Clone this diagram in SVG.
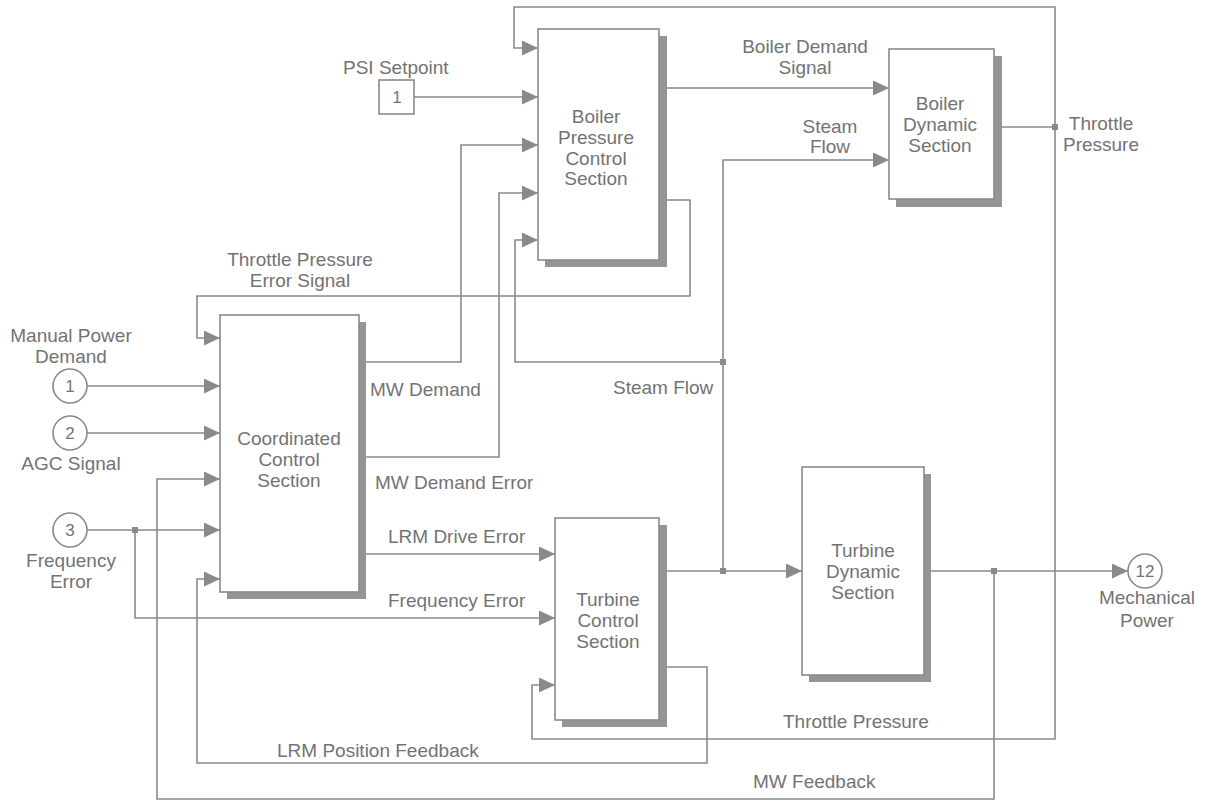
<svg xmlns="http://www.w3.org/2000/svg" width="1206" height="802" viewBox="0 0 1206 802">
<style>
  .blk{fill:#fff;stroke:#8a8a8a;stroke-width:1.6}
  .shd{fill:#959595}
  .ln{fill:none;stroke:#8a8a8a;stroke-width:1.6}
  .t{font-family:"Liberation Sans",Arial,sans-serif;font-size:19px;fill:#737373}
  .m{text-anchor:middle}
  .port{fill:#fff;stroke:#8a8a8a;stroke-width:1.6}
  .num{font-family:"Liberation Sans",Arial,sans-serif;font-size:17px;fill:#737373;text-anchor:middle}
  .dot{fill:#8a8a8a}
</style>
<defs>
  <marker id="arr" viewBox="0 0 16 15" refX="16" refY="7.5" markerWidth="16" markerHeight="15" markerUnits="userSpaceOnUse" orient="auto">
    <path d="M0,0 L16,7.5 L0,15 z" fill="#8a8a8a"/>
  </marker>
</defs>

<g id="connectors">
  <path class="ln" d="M414,97 H538" marker-end="url(#arr)"/>
  <path class="ln" d="M1055,127 V7 H514 V48 H538" marker-end="url(#arr)"/>
  <path class="ln" d="M994,127 H1055"/>
  <path class="ln" d="M1055,127 V739 H532 V685 H555" marker-end="url(#arr)"/>
  <path class="ln" d="M659,88 H889" marker-end="url(#arr)"/>
  <path class="ln" d="M359,362 H461 V145 H538" marker-end="url(#arr)"/>
  <path class="ln" d="M359,457 H499 V193 H538" marker-end="url(#arr)"/>
  <path class="ln" d="M723,362 H515 V240 H538" marker-end="url(#arr)"/>
  <path class="ln" d="M723,571 V160 H889" marker-end="url(#arr)"/>
  <path class="ln" d="M659,200 H690 V296 H197 V338 H220" marker-end="url(#arr)"/>
  <path class="ln" d="M87,386 H220" marker-end="url(#arr)"/>
  <path class="ln" d="M87,433 H220" marker-end="url(#arr)"/>
  <path class="ln" d="M87,530 H220" marker-end="url(#arr)"/>
  <path class="ln" d="M135,530 V618 H555" marker-end="url(#arr)"/>
  <path class="ln" d="M994,571 V799 H157 V479 H220" marker-end="url(#arr)"/>
  <path class="ln" d="M659,667 H707 V763 H197 V579 H220" marker-end="url(#arr)"/>
  <path class="ln" d="M359,554 H555" marker-end="url(#arr)"/>
  <path class="ln" d="M659,571 H802" marker-end="url(#arr)"/>
  <path class="ln" d="M924,571 H1128" marker-end="url(#arr)"/>
  <rect class="dot" x="1052" y="124" width="6" height="6"/>
  <rect class="dot" x="720" y="359" width="6" height="6"/>
  <rect class="dot" x="720" y="568" width="6" height="6"/>
  <rect class="dot" x="991" y="568" width="6" height="6"/>
  <rect class="dot" x="132" y="527" width="6" height="6"/>
</g>

<g id="psi-setpoint">
  <rect class="port" x="379" y="80" width="35" height="34"/>
  <text class="num" x="397" y="103">1</text>
  <text class="t" x="343" y="74">PSI Setpoint</text>
</g>

<g id="in1">
  <circle class="port" cx="70" cy="386" r="17"/>
  <text class="num" x="70" y="392">1</text>
  <text class="t m" x="71" y="342">Manual Power</text>
  <text class="t m" x="71" y="363">Demand</text>
</g>
<g id="in2">
  <circle class="port" cx="70" cy="433" r="17"/>
  <text class="num" x="70" y="439">2</text>
  <text class="t m" x="71" y="470">AGC Signal</text>
</g>
<g id="in3">
  <circle class="port" cx="70" cy="530" r="17"/>
  <text class="num" x="70" y="536">3</text>
  <text class="t m" x="71" y="567">Frequency</text>
  <text class="t m" x="71" y="588">Error</text>
</g>
<g id="out12">
  <circle class="port" cx="1145" cy="571" r="17"/>
  <text class="num" x="1145" y="577">12</text>
  <text class="t m" x="1147" y="604">Mechanical</text>
  <text class="t m" x="1147" y="627">Power</text>
</g>

<g id="bpcs">
  <rect class="shd" x="545" y="36" width="122" height="231"/>
  <rect class="blk" x="538" y="29" width="121" height="231"/>
  <text class="t m" x="596" y="123">Boiler</text>
  <text class="t m" x="596" y="144">Pressure</text>
  <text class="t m" x="596" y="165">Control</text>
  <text class="t m" x="596" y="185">Section</text>
</g>

<g id="bds">
  <rect class="shd" x="896" y="56" width="106" height="151"/>
  <rect class="blk" x="889" y="49" width="105" height="150"/>
  <text class="t m" x="940" y="110">Boiler</text>
  <text class="t m" x="940" y="131">Dynamic</text>
  <text class="t m" x="940" y="152">Section</text>
</g>

<g id="ccs">
  <rect class="shd" x="227" y="322" width="139" height="277"/>
  <rect class="blk" x="220" y="315" width="139" height="277"/>
  <text class="t m" x="289" y="445">Coordinated</text>
  <text class="t m" x="289" y="466">Control</text>
  <text class="t m" x="289" y="487">Section</text>
</g>

<g id="tcs">
  <rect class="shd" x="562" y="525" width="105" height="202"/>
  <rect class="blk" x="555" y="518" width="104" height="202"/>
  <text class="t m" x="608" y="606">Turbine</text>
  <text class="t m" x="608" y="627">Control</text>
  <text class="t m" x="608" y="648">Section</text>
</g>

<g id="tds">
  <rect class="shd" x="809" y="474" width="122" height="208"/>
  <rect class="blk" x="802" y="467" width="122" height="208"/>
  <text class="t m" x="863" y="557">Turbine</text>
  <text class="t m" x="863" y="578">Dynamic</text>
  <text class="t m" x="863" y="599">Section</text>
</g>

<g id="labels">
  <text class="t m" x="805" y="53">Boiler Demand</text>
  <text class="t m" x="805" y="74">Signal</text>
  <text class="t m" x="830" y="133">Steam</text>
  <text class="t m" x="830" y="153">Flow</text>
  <text class="t m" x="1101" y="130">Throttle</text>
  <text class="t m" x="1101" y="151">Pressure</text>
  <text class="t m" x="300" y="266">Throttle Pressure</text>
  <text class="t m" x="300" y="287">Error Signal</text>
  <text class="t" x="370" y="396">MW Demand</text>
  <text class="t" x="613" y="394">Steam Flow</text>
  <text class="t" x="375" y="489">MW Demand Error</text>
  <text class="t" x="388" y="543">LRM Drive Error</text>
  <text class="t" x="388" y="607">Frequency Error</text>
  <text class="t" x="783" y="728">Throttle Pressure</text>
  <text class="t" x="277" y="757">LRM Position Feedback</text>
  <text class="t" x="753" y="788">MW Feedback</text>
</g>
</svg>
